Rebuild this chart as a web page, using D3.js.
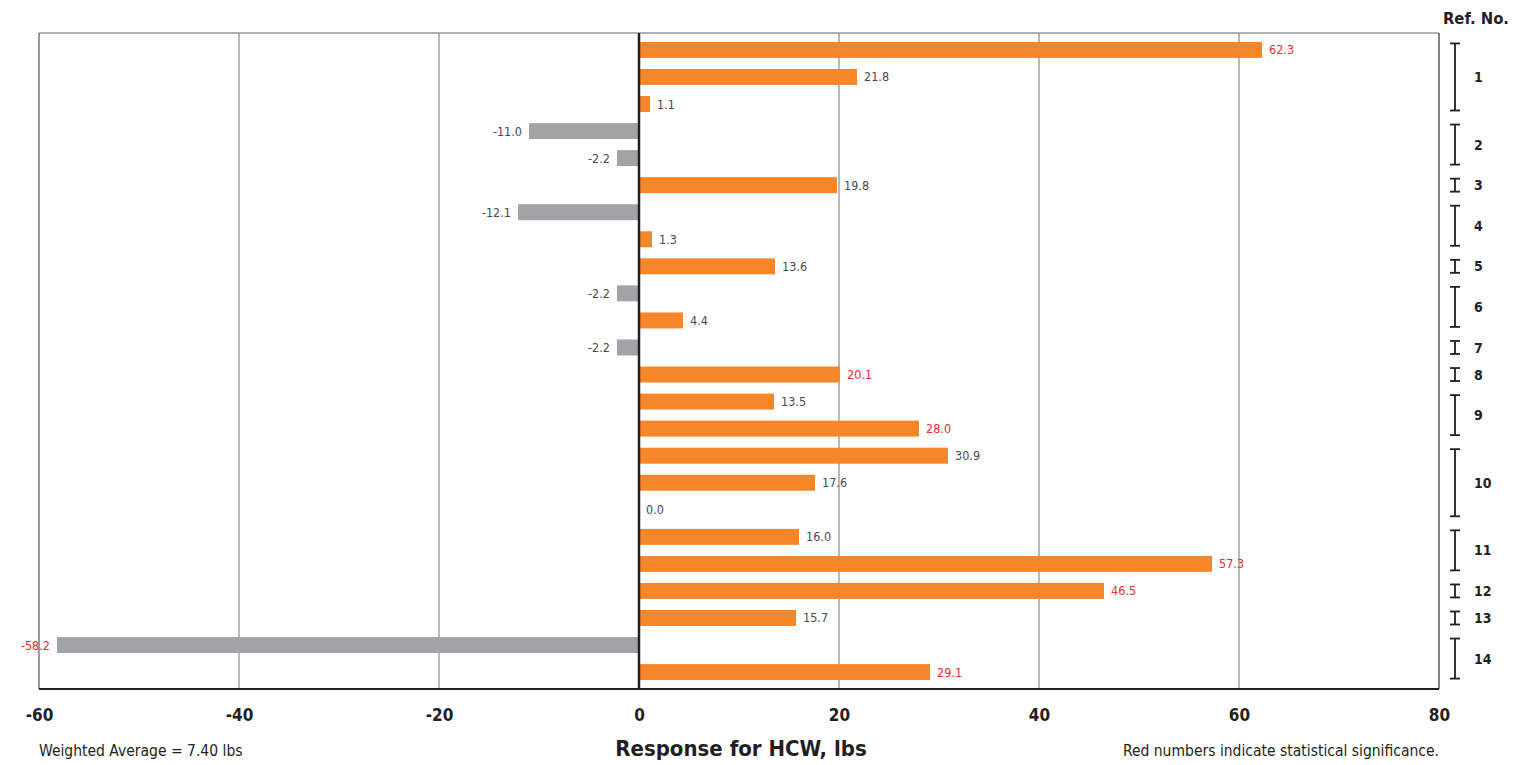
<!DOCTYPE html>
<html>
<head>
<meta charset="utf-8">
<script src="https://cdn.jsdelivr.net/npm/d3@7"></script>
<style>
body { margin: 0; background: #fff; }
svg text { font-family: "DejaVu Sans Condensed", "DejaVu Sans", sans-serif; font-stretch: condensed; }
</style>
</head>
<body>
<svg id="drawing_region" width="1532" height="765"></svg>
<script>
// bar values, top to bottom
var values = [62.3, 21.8, 1.1, -11.0, -2.2, 19.8, -12.1, 1.3, 13.6, -2.2, 4.4, -2.2,
    20.1, 13.5, 28.0, 30.9, 17.6, 0.0, 16.0, 57.3, 46.5, 15.7, -58.2, 29.1];
// which labels are red (statistically significant)
var significant = [true, false, false, false, false, false, false, false, false, false, false, false,
    true, false, true, false, false, false, false, true, true, false, true, true];
// reference number groups: first row, last row
var refNames = ["1", "2", "3", "4", "5", "6", "7", "8", "9", "10", "11", "12", "13", "14"];
var refFirst = [0, 3, 5, 6, 8, 9, 11, 12, 13, 15, 18, 20, 21, 22];
var refLast  = [2, 4, 5, 7, 8, 10, 11, 12, 14, 17, 19, 20, 21, 23];
var xTicks = [-60, -40, -20, 0, 20, 40, 60, 80];

var data = values.map((v, i) => ({ idx: i, value: v, sig: significant[i] }));

var margin = { top: 33, right: 93, bottom: 76, left: 39 };
var width = 1532;
var height = 765;
const inner_width = width - margin.left - margin.right;
const inner_height = height - margin.top - margin.bottom;

// plain hyphen instead of unicode minus
const fmt1 = v => v.toFixed(1);

var svg = d3.select('#drawing_region');
var chart = svg.append('g')
    .attr('transform', `translate(${margin.left}, ${margin.top})`);

const xscale = d3.scaleLinear()
    .domain([-60, 80])
    .range([0, inner_width]);

const yscale = d3.scaleBand()
    .domain(data.map(d => d.idx))
    .range([0, inner_height])
    .paddingInner(0.41)
    .paddingOuter(0.33);

// gridlines
chart.append('g')
    .selectAll('line')
    .data(xTicks.filter(t => t != 0 && t != -60 && t != 80))
    .join('line')
    .attr('x1', d => xscale(d)).attr('x2', d => xscale(d))
    .attr('y1', 0).attr('y2', inner_height)
    .attr('stroke', '#8a8a8a')
    .attr('stroke-width', 1.2);

// frame
chart.append('line').attr('x1', 0).attr('x2', inner_width).attr('y1', 0).attr('y2', 0)
    .attr('stroke', '#9a9a9a').attr('stroke-width', 1.5);
chart.append('line').attr('x1', 0).attr('x2', 0).attr('y1', 0).attr('y2', inner_height)
    .attr('stroke', '#555').attr('stroke-width', 1.2);
chart.append('line').attr('x1', inner_width).attr('x2', inner_width).attr('y1', 0).attr('y2', inner_height)
    .attr('stroke', '#333').attr('stroke-width', 1.2);

// bars
chart.selectAll('rect.bar')
    .data(data)
    .join('rect')
    .attr('class', 'bar')
    .attr('x', d => xscale(Math.min(0, d.value)))
    .attr('y', d => yscale(d.idx))
    .attr('width', d => Math.abs(xscale(d.value) - xscale(0)))
    .attr('height', yscale.bandwidth())
    .attr('fill', d => d.value >= 0 ? '#f5862a' : '#a3a2a6');

// zero line and bottom axis
chart.append('line').attr('x1', xscale(0)).attr('x2', xscale(0)).attr('y1', 0).attr('y2', inner_height)
    .attr('stroke', '#231f20').attr('stroke-width', 2.5);
chart.append('line').attr('x1', 0).attr('x2', inner_width).attr('y1', inner_height).attr('y2', inner_height)
    .attr('stroke', '#231f20').attr('stroke-width', 1.8);

// value labels
chart.selectAll('text.val')
    .data(data)
    .join('text')
    .attr('class', 'val')
    .attr('x', d => d.value >= 0 ? xscale(d.value) + 7 : xscale(d.value) - 7)
    .attr('y', d => yscale(d.idx) + yscale.bandwidth() / 2)
    .attr('dy', '0.36em')
    .attr('text-anchor', d => d.value >= 0 ? 'start' : 'end')
    .attr('font-size', 12.5)
    .attr('fill', d => d.sig ? '#ec2a30' : '#4a4a4a')
    .text(d => fmt1(d.value));

// x axis
const xaxis = d3.axisBottom(xscale)
    .tickValues(xTicks)
    .tickFormat(d => String(d))
    .tickSize(0)
    .tickPadding(20);
const xaxis_group = chart.append('g')
    .attr('transform', `translate(0, ${inner_height})`)
    .call(xaxis);
xaxis_group.select('.domain').remove();
xaxis_group.selectAll('text')
    .attr('font-size', 17)
    .attr('font-weight', 'bold')
    .attr('fill', '#231f20')
    .style('font-family', '"DejaVu Sans Condensed", "DejaVu Sans", sans-serif');

// axis title and notes
svg.append('text')
    .attr('x', margin.left + xscale(10.2)).attr('y', 756)
    .attr('text-anchor', 'middle')
    .attr('font-size', 22).attr('font-weight', 'bold').attr('fill', '#231f20')
    .text('Response for HCW, lbs');
svg.append('text')
    .attr('x', 39).attr('y', 756)
    .attr('font-size', 15.5).attr('fill', '#231f20')
    .text('Weighted Average = 7.40 lbs');
svg.append('text')
    .attr('x', 1439).attr('y', 756)
    .attr('text-anchor', 'end')
    .attr('font-size', 15.5).attr('fill', '#231f20')
    .text('Red numbers indicate statistical significance.');

// reference number brackets
svg.append('text')
    .attr('x', 1509).attr('y', 24)
    .attr('text-anchor', 'end')
    .attr('font-size', 16.5).attr('font-weight', 'bold').attr('fill', '#231f20')
    .text('Ref. No.');

var refs = refNames.map((n, i) => ({ name: n, first: refFirst[i], last: refLast[i] }));
var bx = 1455 - margin.left;
chart.selectAll('g.ref')
    .data(refs)
    .join('g')
    .attr('class', 'ref')
    .each(function (d) {
        var g = d3.select(this);
        var y1 = yscale(d.first) + yscale.bandwidth() / 2 - 6.5;
        var y2 = yscale(d.last) + yscale.bandwidth() / 2 + 6.5;
        g.append('line').attr('x1', bx).attr('x2', bx).attr('y1', y1).attr('y2', y2)
            .attr('stroke', '#231f20').attr('stroke-width', 1.8);
        g.append('line').attr('x1', bx - 5).attr('x2', bx + 5).attr('y1', y1).attr('y2', y1)
            .attr('stroke', '#231f20').attr('stroke-width', 1.8);
        g.append('line').attr('x1', bx - 5).attr('x2', bx + 5).attr('y1', y2).attr('y2', y2)
            .attr('stroke', '#231f20').attr('stroke-width', 1.8);
        g.append('text')
            .attr('x', bx + 19).attr('y', (y1 + y2) / 2)
            .attr('dy', '0.36em')
            .attr('font-size', 14).attr('font-weight', 'bold').attr('fill', '#231f20')
            .text(d.name);
    });
</script>
</body>
</html>
